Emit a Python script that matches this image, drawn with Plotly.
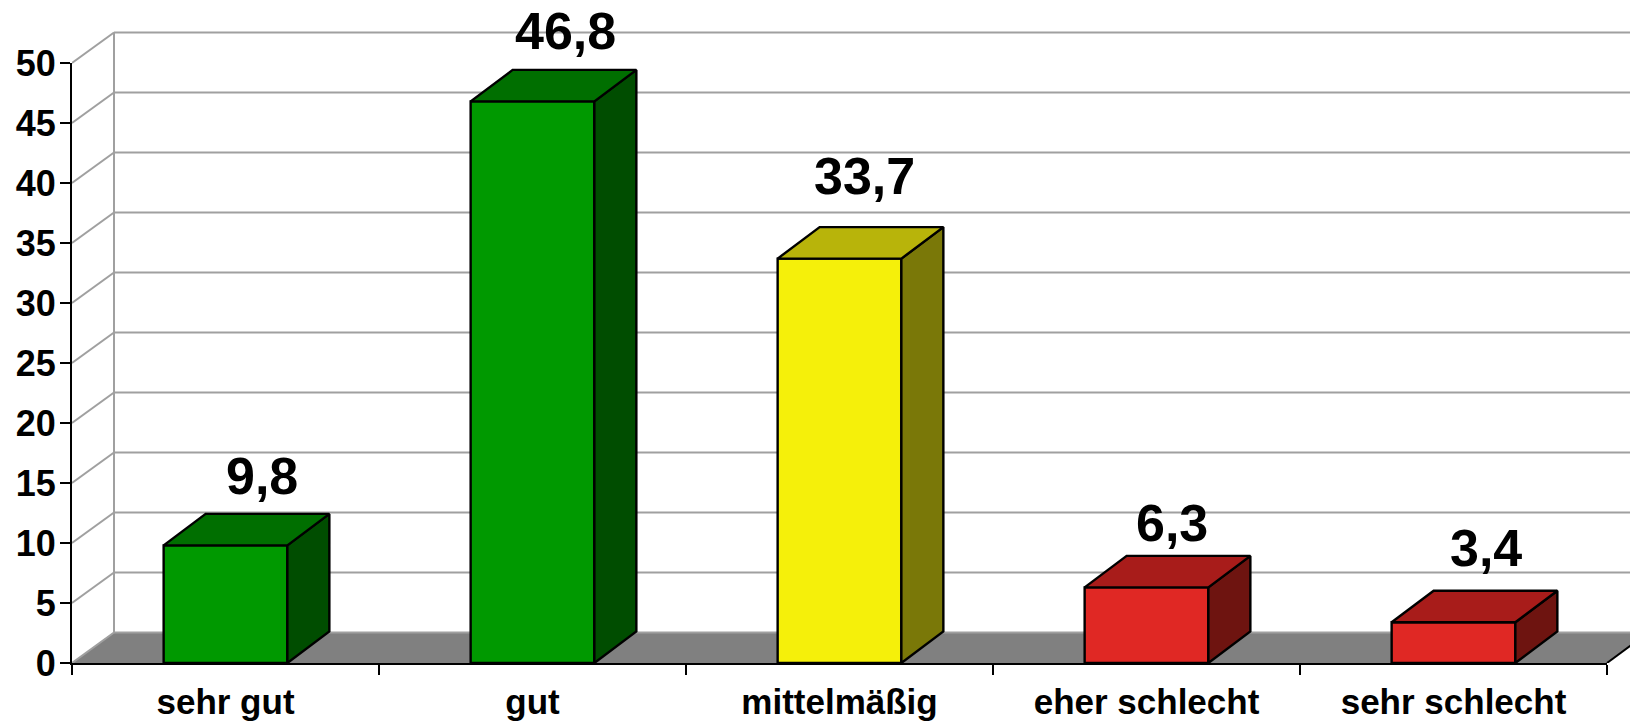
import plotly.graph_objects as go

# --- data ---
categories = ["sehr gut", "gut", "mittelmäßig", "eher schlecht", "sehr schlecht"]
values = [9.8, 46.8, 33.7, 6.3, 3.4]
value_labels = ["9,8", "46,8", "33,7", "6,3", "3,4"]
y_ticks = [0, 5, 10, 15, 20, 25, 30, 35, 40, 45, 50]

# --- styling ---
front_colors = ["#009900", "#009900", "#F5F00A", "#E02824", "#E02824"]
top_colors = ["#006F00", "#006F00", "#B8B40A", "#A81C1A", "#A81C1A"]
side_colors = ["#004D00", "#004D00", "#7A7808", "#6E1410", "#6E1410"]
label_dx_px = [15, 12, 4, 4, 11]
label_dy_px = [38, 39, 51, 33, 43]
FONT = "Liberation Sans, Arial, sans-serif"
GRID = "#A0A0A0"
EDGE = 2.4

# --- geometry of the pseudo-3D frame (in axis units) ---
W, H = 1630, 723
ML, MB = 72, 60
PX_X = 307.0          # px per category
PX_Y = 12.0           # px per y unit
DX = 42 / PX_X        # depth offset along x
DY_WALL = 30.5 / PX_Y # depth offset along y at the grid
DY_FLOOR = 31 / PX_Y  # depth offset along y at the floor
DY = 31.5 / PX_Y      # depth offset along y of the bars
BAR_W = 0.403
XMIN = -0.5
XEND = len(categories) - 0.5
XMAX = XMIN + (W - ML) / PX_X
YMAX = (H - MB) / PX_Y

fig = go.Figure()

# walls, grid and floor live below the bars
shapes = []
def seg(x0, y0, x1, y1, color=GRID, width=2):
    shapes.append(dict(type="line", xref="x", yref="y", x0=x0, y0=y0, x1=x1, y1=y1,
                       layer="below", line=dict(color=color, width=width)))

floor = [(XMIN, 0), (XMIN + DX, DY_FLOOR), (XEND + DX, DY_FLOOR), (XEND, 0)]
path = "M" + " L".join(f"{x},{y}" for x, y in floor) + " Z"
shapes.append(dict(type="path", xref="x", yref="y", path=path, layer="below",
                   fillcolor="#808080", line=dict(width=0)))
for t in y_ticks:
    seg(XMIN, t, XMIN + DX, t + DY_WALL)
    seg(XMIN + DX, t + DY_WALL, XMAX, t + DY_WALL)
seg(XMIN + DX, DY_FLOOR, XMIN + DX, max(y_ticks) + DY_WALL)
seg(XEND, 0, XEND + DX, DY_FLOOR, color="black")

# front faces
fig.add_trace(go.Bar(
    x=list(range(len(values))), y=values, width=BAR_W,
    marker=dict(color=front_colors, line=dict(color="black", width=EDGE)),
    showlegend=False, hoverinfo="skip",
))

# side and top faces derived from the values
for i, v in enumerate(values):
    x0, x1 = i - BAR_W / 2, i + BAR_W / 2
    fig.add_trace(go.Scatter(
        x=[x1, x1 + DX, x1 + DX, x1, x1], y=[0, DY, v + DY, v, 0],
        mode="lines", fill="toself", fillcolor=side_colors[i],
        line=dict(color="black", width=EDGE), showlegend=False, hoverinfo="skip"))
    fig.add_trace(go.Scatter(
        x=[x0, x0 + DX, x1 + DX, x1, x0], y=[v, v + DY, v + DY, v, v],
        mode="lines", fill="toself", fillcolor=top_colors[i],
        line=dict(color="black", width=EDGE), showlegend=False, hoverinfo="skip"))

# trace that brings the visible axes into being
fig.add_trace(go.Scatter(x=[None], y=[None], xaxis="x2", yaxis="y2",
                         mode="lines", showlegend=False, hoverinfo="skip"))

annotations = [
    dict(x=i + DX / 2, y=v + DY, xref="x", yref="y", text=f"<b>{value_labels[i]}</b>",
         showarrow=False, xanchor="center", yanchor="middle",
         xshift=label_dx_px[i], yshift=label_dy_px[i],
         font=dict(family=FONT, size=52, color="black"))
    for i, v in enumerate(values)
]

fig.update_layout(
    width=W, height=H,
    margin=dict(l=ML, r=0, t=0, b=MB, autoexpand=False),
    paper_bgcolor="white", plot_bgcolor="rgba(0,0,0,0)",
    shapes=shapes, annotations=annotations, showlegend=False,
    xaxis=dict(range=[XMIN, XMAX], domain=[0, 1], tickmode="array",
               tickvals=list(range(len(categories))),
               ticktext=[f"<b>{c}</b>" for c in categories],
               ticks="outside", ticklen=8, tickcolor="rgba(0,0,0,0)",
               showgrid=False, zeroline=False, showline=False,
               tickfont=dict(family=FONT, size=35, color="black"), anchor="y"),
    yaxis=dict(range=[0, YMAX], domain=[0, 1], visible=False, anchor="x"),
    xaxis2=dict(range=[XMIN, XEND], domain=[0, (XEND - XMIN) * PX_X / (W - ML)],
                tickmode="array",
                tickvals=[XMIN + k for k in range(len(categories) + 1)],
                ticktext=[""] * (len(categories) + 1),
                ticks="outside", ticklen=10, tickwidth=2, tickcolor="black",
                showline=True, linecolor="black", linewidth=2,
                showgrid=False, zeroline=False, anchor="y2", layer="above traces"),
    yaxis2=dict(range=[0, max(y_ticks)], domain=[0, max(y_ticks) * PX_Y / (H - MB)],
                tickmode="array", tickvals=y_ticks, ticktext=[f"<b>{t}</b>" for t in y_ticks],
                ticks="outside", ticklen=10, tickwidth=2, tickcolor="black",
                ticklabelstandoff=-3,
                showline=True, linecolor="black", linewidth=2,
                showgrid=False, zeroline=False, anchor="x2", layer="above traces",
                tickfont=dict(family=FONT, size=36, color="black")),
)

fig.write_html("out.html", config={"displayModeBar": False},
               post_script="document.body.style.margin='0';document.body.style.overflow='hidden';")
